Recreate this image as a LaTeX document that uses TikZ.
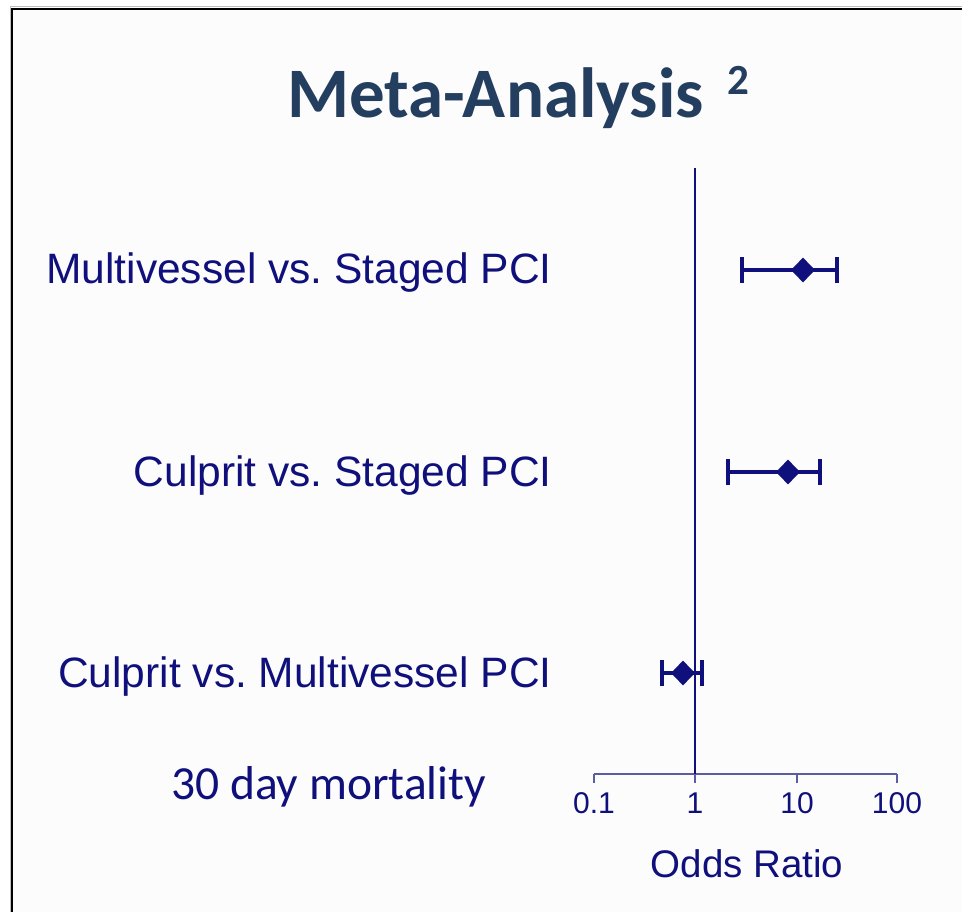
\documentclass[tikz,border=0pt]{standalone}
\usepackage{fontspec}
\setmainfont{Liberation Sans}
\newfontfamily\calfont{Carlito}
\usetikzlibrary{shapes.geometric}
\definecolor{PlotNavy}{HTML}{10107C}
\definecolor{AxisBlue}{HTML}{5C5CA0}
\definecolor{TitleSlate}{HTML}{233E5F}
\definecolor{PageBg}{HTML}{FCFCFC}
\frenchspacing

\begin{document}
\begin{tikzpicture}[x=1pt, y=-1pt,
  rowlabel/.style={anchor=base east, inner sep=0pt, text=PlotNavy,
                   font=\fontsize{42.5}{48}\selectfont},
  ticklabel/.style={anchor=base, inner sep=0pt, text=PlotNavy,
                    font=\fontsize{30}{34}\selectfont},
  estmark/.style={diamond, fill=PlotNavy, inner sep=0pt,
                  minimum width=24pt, minimum height=25pt},
  cibar/.style={draw=PlotNavy, line width=3.6pt}
]
  \useasboundingbox (0,0) rectangle (962,912);
  \fill[white] (0,0) rectangle (962,912);
  \fill[PageBg] (12,9) rectangle (962,912);
  \draw[black!25, line width=1pt] (10,912) -- (10,7) -- (962,7);
  \draw[black, line width=2pt] (12,912) -- (12,9) -- (962,9);

  \node[anchor=base west, inner sep=0pt, text=TitleSlate,
        font=\calfont\bfseries\fontsize{71}{80}\selectfont] (title) at (287,118) {Meta-Analysis};
  \node[anchor=base west, inner sep=0pt, text=TitleSlate,
        font=\calfont\bfseries\fontsize{43}{48}\selectfont] (titlesup) at (727,95) {2};

  \coordinate (reftop) at (695,168);
  \coordinate (refbot) at (695,774);
  \coordinate (axleft) at (594,774);
  \coordinate (axright) at (897,774);
  \draw[AxisBlue, line width=2pt] (axleft) -- (axright);
  \draw[PlotNavy, line width=2pt] (reftop) -- (refbot);

  \foreach \tk/\v/\xx in {a/0.1/594, b/1/695, c/10/797, d/100/897}{
    \coordinate (tick-\tk) at (\xx,774);
    \draw[AxisBlue, line width=2pt] (tick-\tk) -- ++(0,9);
    \node[ticklabel] (ticklab-\tk) at (\xx,813) {\v};
  }

  \foreach \id/\yy/\lo/\est/\hi/\txt in {
      ms/270/742/803/837/{Multivessel vs. Staged PCI},
      cs/472/728/788/820/{Culprit vs. Staged PCI},
      cm/673/662/683/702/{Culprit vs. Multivessel PCI}}{
    \node[rowlabel] (lab-\id) at (552,\yy+14) {\txt};
    \coordinate (lo-\id) at (\lo,\yy);
    \coordinate (hi-\id) at (\hi,\yy);
    \draw[cibar] (lo-\id) -- (hi-\id);
    \draw[cibar] ([yshift=-13pt]lo-\id) -- ([yshift=13pt]lo-\id);
    \draw[cibar] ([yshift=-13pt]hi-\id) -- ([yshift=13pt]hi-\id);
    \node[estmark] (est-\id) at (\est,\yy) {};
  }

  \node[anchor=base west, inner sep=0pt, text=PlotNavy,
        font=\calfont\fontsize{47.5}{52}\selectfont] (period) at (171,799) {30 day mortality};
  \node[anchor=base, inner sep=0pt, text=PlotNavy,
        font=\fontsize{38.5}{44}\selectfont] (xtitle) at (747,877) {Odds Ratio};
\end{tikzpicture}
\end{document}
